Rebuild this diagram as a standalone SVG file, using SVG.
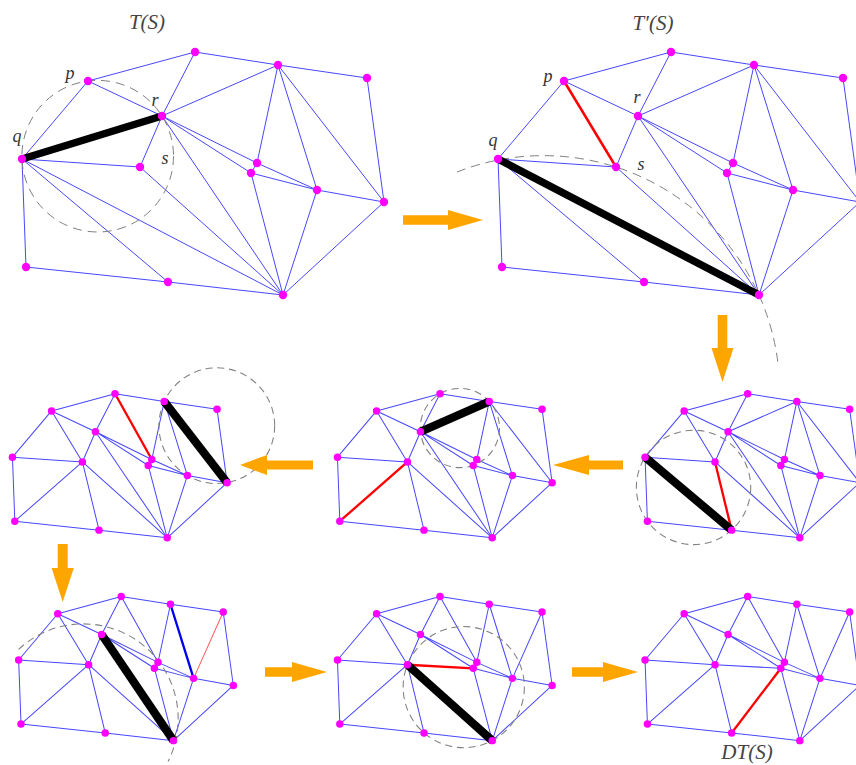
<svg xmlns="http://www.w3.org/2000/svg" xmlns:xlink="http://www.w3.org/1999/xlink" width="856" height="765" viewBox="0 0 856 765">
  <style>
    .e{fill:none;stroke:#4848ff;stroke-linejoin:round}
    .top{stroke-width:1}
    .sm{stroke-width:1.7}
    .bold{fill:none;stroke:#000}
    .top .bold{stroke-width:7.5}
    .sm .bold{stroke-width:14}
    .red{fill:none;stroke:#f00}
    .top .red{stroke-width:2.5}
    .sm .red{stroke-width:3.9}
    .thinred{fill:none;stroke:#ff5a5a;stroke-width:1.7}
    .blue{fill:none;stroke:#0000f0;stroke-width:3.9}
    .dash{fill:none;stroke:#808080}
    .top .dash{stroke-width:1;stroke-dasharray:9 6}
    .sm .dash{stroke-width:1.8;stroke-dasharray:12 8}
    .pt{fill:#ff00ff}
    .arrow{fill:#ffa500}
    .lbl{font-family:"Liberation Serif","DejaVu Serif",serif;font-style:italic;font-size:18px;fill:#333}
    .title{font-family:"Liberation Serif","DejaVu Serif",serif;font-style:italic;font-size:21px;fill:#444}
  </style>
  <defs>
    <!-- edges shared by every triangulation in the sequence (hull + edges never flipped) -->
    <path id="base" class="e" d="M88 81L195 52L278 65L367 78L384 202L283 295L168 282L26 267L22 159Z
      M88 81L162 116M195 52L162 116M22 159L140 167M162 116L140 167
      M162 116L257 163M162 116L251 173M278 65L257 163M278 65L317 190
      M257 163L317 190M251 173L317 190M251 173L283 295M317 190L283 295
      M317 190L384 202M257 163L251 173"/>
    <!-- the point set S, full-size and reduced versions -->
    <g id="pts" class="pt">
      <circle cx="195" cy="52" r="4.2"/><circle cx="278" cy="65" r="4.2"/><circle cx="367" cy="78" r="4.2"/>
      <circle cx="88" cy="81" r="4.2"/><circle cx="162" cy="116" r="4.2"/><circle cx="22" cy="159" r="4.2"/>
      <circle cx="140" cy="167" r="4.2"/><circle cx="257" cy="163" r="4.2"/><circle cx="251" cy="173" r="4.2"/>
      <circle cx="317" cy="190" r="4.2"/><circle cx="384" cy="202" r="4.2"/><circle cx="26" cy="267" r="4.2"/>
      <circle cx="168" cy="282" r="4.2"/><circle cx="283" cy="295" r="4.2"/>
    </g>
    <g id="pts-s" class="pt">
      <circle cx="195" cy="52" r="6.3"/><circle cx="278" cy="65" r="6.3"/><circle cx="367" cy="78" r="6.3"/>
      <circle cx="88" cy="81" r="6.3"/><circle cx="162" cy="116" r="6.3"/><circle cx="22" cy="159" r="6.3"/>
      <circle cx="140" cy="167" r="6.3"/><circle cx="257" cy="163" r="6.3"/><circle cx="251" cy="173" r="6.3"/>
      <circle cx="317" cy="190" r="6.3"/><circle cx="384" cy="202" r="6.3"/><circle cx="26" cy="267" r="6.3"/>
      <circle cx="168" cy="282" r="6.3"/><circle cx="283" cy="295" r="6.3"/>
    </g>
  </defs>

  <!-- T(S): initial triangulation, edge qr to be flipped -->
  <g id="panel-1">
    <g class="top">
      <g class="connectors">
        <use href="#base" xlink:href="#base"/>
        <path class="e" d="M22 159L283 295M22 159L168 282M162 116L278 65M278 65L384 202M162 116L283 295M140 167L283 295"/>
        <circle class="dash" cx="97.7" cy="156.2" r="75.8"/>
        <path class="bold" d="M22 159L162 116"/>
      </g>
      <use href="#pts" xlink:href="#pts"/>
    </g>
    <text class="title" x="147" y="29" text-anchor="middle">T(S)</text>
    <text class="lbl" x="70" y="79" text-anchor="middle">p</text>
    <text class="lbl" x="155" y="106" text-anchor="middle">r</text>
    <text class="lbl" x="17" y="142" text-anchor="middle">q</text>
    <text class="lbl" x="165" y="164" text-anchor="middle">s</text>
  </g>

  <!-- T'(S): qr flipped to ps, qJ next -->
  <g id="panel-2">
    <g class="top" transform="translate(476 0)">
      <g class="connectors">
        <use href="#base" xlink:href="#base"/>
        <path class="e" d="M22 159L168 282M162 116L278 65M278 65L384 202M162 116L283 295M140 167L283 295"/>
        <path class="red" d="M88 81L140 167"/>
        <path class="dash" d="M-19 172A236.3 236.3 0 0 1 302.4 367"/>
        <path class="bold" d="M22 159L283 295"/>
      </g>
      <use href="#pts" xlink:href="#pts"/>
    </g>
    <text class="title" x="653" y="30" text-anchor="middle">T′(S)</text>
    <text class="lbl" x="548" y="82" text-anchor="middle">p</text>
    <text class="lbl" x="637" y="103" text-anchor="middle">r</text>
    <text class="lbl" x="493" y="146" text-anchor="middle">q</text>
    <text class="lbl" x="641" y="170" text-anchor="middle">s</text>
  </g>

  <!-- step 3 -->
  <g id="panel-3" class="sm" transform="translate(632 362.9) scale(0.593)">
    <g class="connectors">
      <use href="#base" xlink:href="#base"/>
      <path class="e" d="M88 81L140 167M162 116L278 65M278 65L384 202M162 116L283 295M140 167L283 295"/>
      <path class="red" d="M140 167L168 282"/>
      <circle class="dash" cx="103.8" cy="210" r="96.4"/>
      <path class="bold" d="M22 159L168 282"/>
    </g>
    <use href="#pts-s" xlink:href="#pts-s"/>
  </g>

  <!-- step 4 -->
  <g id="panel-4" class="sm" transform="translate(324.4 362.9) scale(0.593)">
    <g class="connectors">
      <use href="#base" xlink:href="#base"/>
      <path class="e" d="M88 81L140 167M140 167L168 282M278 65L384 202M162 116L283 295M140 167L283 295"/>
      <path class="red" d="M140 167L26 267"/>
      <circle class="dash" cx="228.5" cy="109.8" r="66.8"/>
      <path class="bold" d="M162 116L278 65"/>
    </g>
    <use href="#pts-s" xlink:href="#pts-s"/>
  </g>

  <!-- step 5 -->
  <g id="panel-5" class="sm" transform="translate(-0.6 362.9) scale(0.593)">
    <g class="connectors">
      <use href="#base" xlink:href="#base"/>
      <path class="e" d="M88 81L140 167M140 167L168 282M140 167L26 267M162 116L283 295M140 167L283 295"/>
      <path class="red" d="M195 52L257 163"/>
      <circle class="dash" cx="366.6" cy="105.9" r="97.6"/>
      <path class="bold" d="M278 65L384 202"/>
    </g>
    <use href="#pts-s" xlink:href="#pts-s"/>
  </g>

  <!-- step 6 -->
  <g id="panel-6" class="sm" transform="translate(5.6 565.7) scale(0.593)">
    <g class="connectors">
      <use href="#base" xlink:href="#base"/>
      <path class="e" d="M88 81L140 167M140 167L168 282M140 167L26 267M195 52L257 163M140 167L283 295"/>
      <path class="thinred" d="M367 78L317 190"/>
      <path class="blue" d="M278 65L317 190"/>
      <path class="dash" d="M22 141A160 160 0 0 1 273.9 330.1"/>
      <path class="bold" d="M162 116L283 295"/>
    </g>
    <use href="#pts-s" xlink:href="#pts-s"/>
  </g>

  <!-- step 7 -->
  <g id="panel-7" class="sm" transform="translate(324.4 565.7) scale(0.593)">
    <g class="connectors">
      <use href="#base" xlink:href="#base"/>
      <path class="e" d="M88 81L140 167M140 167L168 282M140 167L26 267M195 52L257 163M367 78L317 190"/>
      <path class="red" d="M140 167L251 173"/>
      <circle class="dash" cx="235" cy="204.8" r="102.2"/>
      <path class="bold" d="M140 167L283 295"/>
    </g>
    <use href="#pts-s" xlink:href="#pts-s"/>
  </g>

  <!-- DT(S): resulting Delaunay triangulation -->
  <g id="panel-8">
    <g class="sm" transform="translate(632 565.7) scale(0.593)">
      <g class="connectors">
        <use href="#base" xlink:href="#base"/>
        <path class="e" d="M88 81L140 167M140 167L168 282M140 167L26 267M195 52L257 163M367 78L317 190M140 167L251 173"/>
        <path class="red" d="M251 173L168 282"/>
      </g>
      <use href="#pts-s" xlink:href="#pts-s"/>
    </g>
    <text class="title" x="747" y="759" text-anchor="middle">DT(S)</text>
  </g>

  <!-- flow arrows between steps -->
  <g id="arrows" class="arrow">
    <polygon points="403,215.3 448,215.3 448,210 483,220 448,230 448,224.7 403,224.7"/>
    <polygon points="717.7,315 727.3,315 727.3,348 733.5,348 722.5,382 711.5,348 717.7,348"/>
    <polygon points="623,460.5 589,460.5 589,455 553,465 589,475 589,469.5 623,469.5"/>
    <polygon points="313,460.5 267,460.5 267,455 240,465 267,475 267,469.5 313,469.5"/>
    <polygon points="57.7,544 67.7,544 67.7,568 73.8,568 62.7,602 51.6,568 57.7,568"/>
    <polygon points="265,667.3 292,667.3 292,662 327,672 292,682 292,676.7 265,676.7"/>
    <polygon points="572,667.3 603,667.3 603,662 638,672 603,682 603,676.7 572,676.7"/>
  </g>
</svg>
